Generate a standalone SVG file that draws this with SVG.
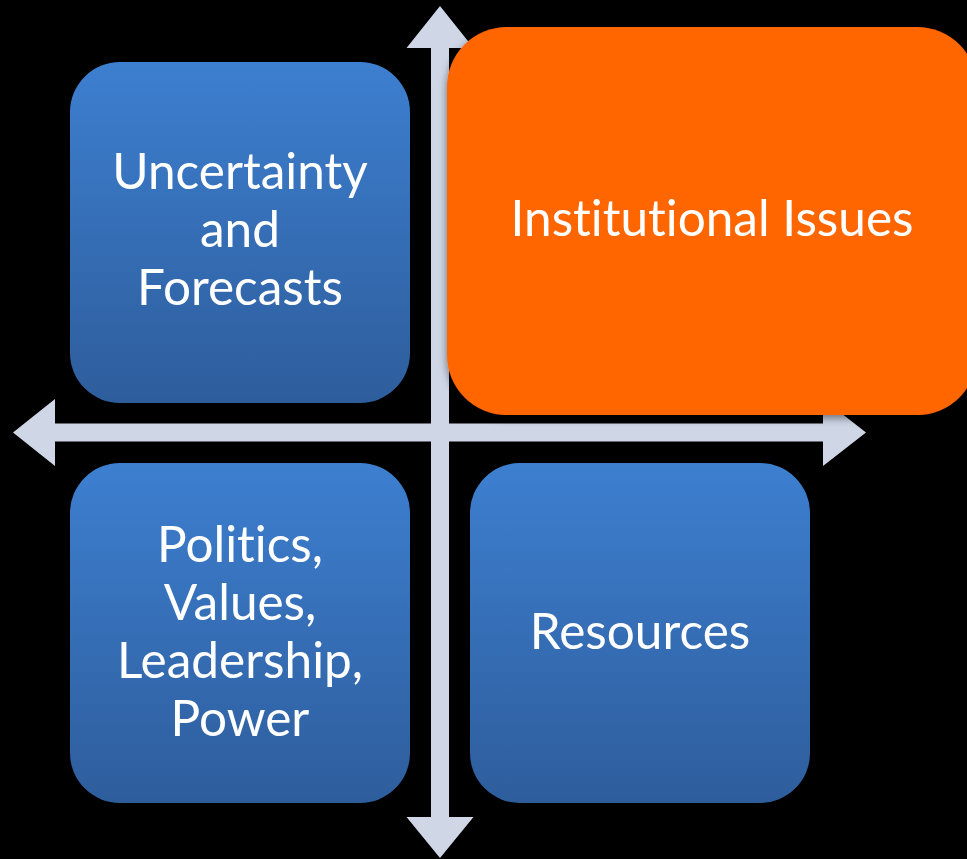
<svg xmlns="http://www.w3.org/2000/svg" width="967" height="859" viewBox="0 0 967 859">
  <defs>
    <linearGradient id="blueGrad" x1="0" y1="0" x2="0" y2="1">
      <stop offset="0" stop-color="#3d7fd0"/>
      <stop offset="1" stop-color="#2e5d9c"/>
    </linearGradient>
    <filter id="shadow" x="-10%" y="-10%" width="120%" height="120%">
      <feGaussianBlur in="SourceAlpha" stdDeviation="4"/>
      <feOffset dx="0" dy="3" result="b"/>
      <feComponentTransfer><feFuncA type="linear" slope="0.5"/></feComponentTransfer>
      <feMerge><feMergeNode/><feMergeNode in="SourceGraphic"/></feMerge>
    </filter>
  </defs>
  <style>
    .box { fill: url(#blueGrad); }
    .hot { fill: #ff6600; }
    .arrow { fill: #cfd6e6; }
    .lbl { font-family: "Lato", "Open Sans", "Liberation Sans", sans-serif; font-size: 49.5px; fill: #ffffff; text-anchor: middle; font-variant-ligatures: none; font-feature-settings: "liga" 0; }
  </style>
  <rect width="967" height="859" fill="#000000"/>

  <g id="connectors">
    <polygon class="arrow" points="440,6 473.5,48 449,48 449,817 473.5,817 440,858 406.5,817 431,817 431,48 406.5,48"/>
    <polygon class="arrow" points="13,432.5 55,399 55,423.5 823,423.5 823,399 866,432.5 823,466 823,441.5 55,441.5 55,466"/>
  </g>

  <g id="node-uncertainty">
    <rect class="box" x="70" y="62" width="340" height="341" rx="50" ry="50"/>
    <text class="lbl" x="240" y="189">Uncertainty</text>
    <text class="lbl" x="240" y="247">and</text>
    <text class="lbl" x="240" y="305">Forecasts</text>
  </g>

  <g id="node-institutional">
    <rect class="hot" x="447" y="27" width="530" height="388" rx="60" ry="60" filter="url(#shadow)"/>
    <text class="lbl" x="712" y="236">Institutional Issues</text>
  </g>

  <g id="node-politics">
    <rect class="box" x="70" y="463" width="340" height="340" rx="50" ry="50"/>
    <text class="lbl" x="240" y="562">Politics,</text>
    <text class="lbl" x="240" y="620">Values,</text>
    <text class="lbl" x="240" y="678">Leadership,</text>
    <text class="lbl" x="240" y="736">Power</text>
  </g>

  <g id="node-resources">
    <rect class="box" x="470" y="463" width="340" height="340" rx="50" ry="50"/>
    <text class="lbl" x="640" y="649">Resources</text>
  </g>
</svg>
